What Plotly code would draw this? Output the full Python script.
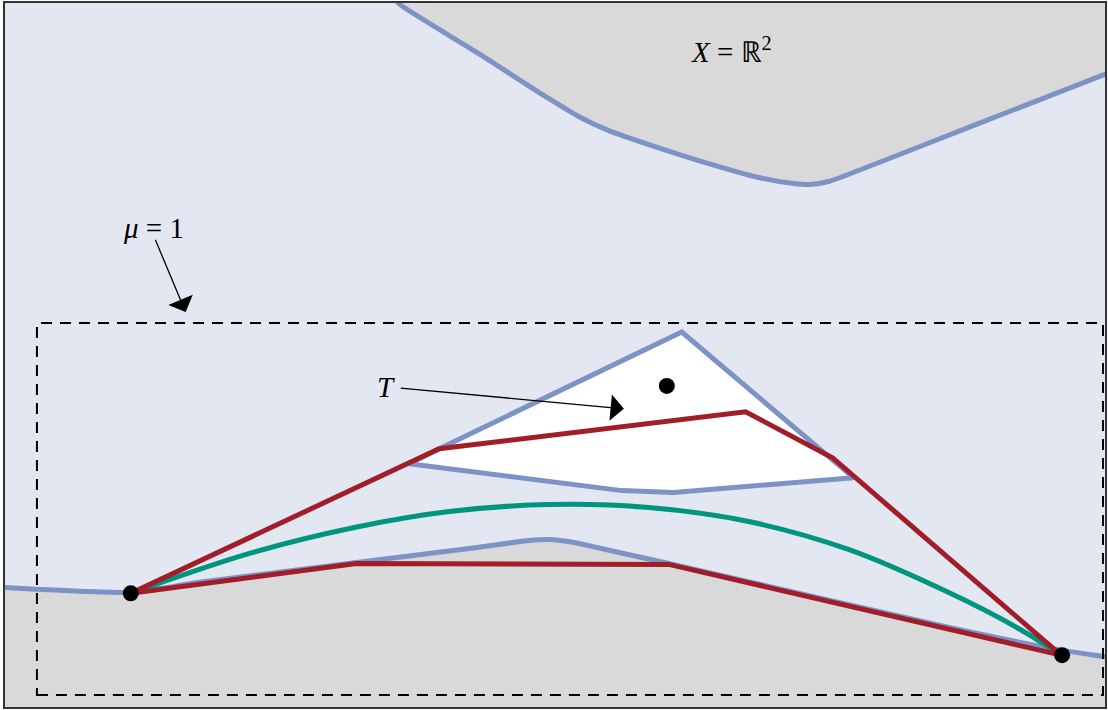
import plotly.graph_objects as go

# Colours
BG_BLUE = "#e2e7f2"
GRAY = "#d9d9d9"
BLUE = "#7d93c6"
RED = "#a01d29"
GREEN = "#00957e"

# Upper boundary of the space (gray region above it)
top_x = [3.97, 4.00, 4.80, 5.50, 5.80, 6.10, 6.50, 7.00, 7.60, 7.95, 8.12, 8.30, 8.60, 9.80, 11.08, 11.20]
top_y = [7.12, 7.08, 6.58, 6.13, 5.95, 5.81, 5.67, 5.51, 5.34, 5.28, 5.27, 5.30, 5.41, 5.88, 6.38, 6.43]

# Lower boundary of the space (gray region below it)
bot_x = [-0.10, 0.00, 0.60, 1.31, 2.00, 3.57, 4.70, 5.30, 5.50, 5.75, 6.20, 6.70, 9.50, 10.63, 11.10, 11.20]
bot_y = [1.23, 1.23, 1.20, 1.18, 1.28, 1.48, 1.62, 1.70, 1.71, 1.68, 1.58, 1.47, 0.83, 0.60, 0.53, 0.51]

# Obstacle T
tri_x = [4.10, 4.40, 6.83, 8.55, 6.75, 6.23, 4.10]
tri_y = [2.47, 2.62, 3.79, 2.33, 2.18, 2.20, 2.47]

# Piecewise linear paths
red_up_x = [1.31, 4.40, 7.47, 8.34, 10.63]
red_up_y = [1.17, 2.62, 2.99, 2.53, 0.55]
red_lo_x = [1.31, 3.57, 6.70, 10.63]
red_lo_y = [1.17, 1.47, 1.46, 0.55]

# Smooth path
green_x = [1.31, 2.50, 3.55, 4.50, 5.50, 6.50, 7.50, 8.50, 9.50, 10.20, 10.63]
green_y = [1.17, 1.57, 1.83, 1.99, 2.06, 2.03, 1.89, 1.61, 1.18, 0.82, 0.55]

# Points
pts_x = [1.31, 10.64, 6.68]
pts_y = [1.17, 0.55, 3.25]

# Dashed window
win_x0, win_x1 = 0.37, 11.05
win_y0, win_y1 = 0.15, 3.88

fig = go.Figure()

# Gray regions outside the space
fig.add_trace(go.Scatter(
    x=top_x + [11.20, 3.90], y=top_y + [7.20, 7.20],
    fill="toself", fillcolor=GRAY, mode="none", hoverinfo="skip"))
fig.add_trace(go.Scatter(
    x=bot_x + [11.20, -0.10], y=bot_y + [-0.10, -0.10],
    fill="toself", fillcolor=GRAY, mode="none", hoverinfo="skip"))

# Boundary curves
fig.add_trace(go.Scatter(x=top_x, y=top_y, mode="lines",
                         line=dict(color=BLUE, width=5, shape="spline", smoothing=0.7)))
fig.add_trace(go.Scatter(x=bot_x, y=bot_y, mode="lines",
                         line=dict(color=BLUE, width=5, shape="spline", smoothing=0.6)))

# Obstacle
fig.add_trace(go.Scatter(x=tri_x, y=tri_y, mode="lines", fill="toself",
                         fillcolor="white", line=dict(color=BLUE, width=5)))

# Paths
fig.add_trace(go.Scatter(x=green_x, y=green_y, mode="lines",
                         line=dict(color=GREEN, width=5, shape="spline", smoothing=1.0)))
fig.add_trace(go.Scatter(x=red_up_x, y=red_up_y, mode="lines",
                         line=dict(color=RED, width=5)))
fig.add_trace(go.Scatter(x=red_lo_x, y=red_lo_y, mode="lines",
                         line=dict(color=RED, width=5)))

fig.add_trace(go.Scatter(x=pts_x, y=pts_y, mode="markers",
                         marker=dict(color="black", size=16, line=dict(width=0))))

# Dashed window
fig.add_shape(type="rect", x0=win_x0, x1=win_x1, y0=win_y0, y1=win_y1,
              line=dict(color="black", width=2, dash="11px,8px"))

FONT = dict(family="Liberation Serif, serif", size=29, color="black")

fig.add_annotation(x=7.33, y=6.62, text="<i>X</i> = ℝ<sup>2</sup>",
                   showarrow=False, font=FONT)
fig.add_annotation(x=1.54, y=4.83, text="<i>μ</i> = 1",
                   showarrow=False, font=FONT)
fig.add_annotation(x=3.87, y=3.24, text="<i>T</i>",
                   showarrow=False, font=FONT)

# Arrows
fig.add_annotation(x=1.86, y=3.99, ax=1.55, ay=4.73, xref="x", yref="y",
                   axref="x", ayref="y", text="", showarrow=True,
                   arrowhead=1, arrowsize=3.4, arrowwidth=1.3, arrowcolor="black")
fig.add_annotation(x=6.25, y=3.02, ax=4.00, ay=3.23, xref="x", yref="y",
                   axref="x", ayref="y", text="", showarrow=True,
                   arrowhead=1, arrowsize=3.4, arrowwidth=1.3, arrowcolor="black")

axis_common = dict(showgrid=False, zeroline=False, showticklabels=False, ticks="",
                   showline=True, mirror=True, linecolor="#333333", linewidth=1.5)
fig.update_xaxes(range=[0.05, 11.07], **axis_common)
fig.update_yaxes(range=[0.03, 7.09], **axis_common)

fig.update_layout(
    width=1108, height=710,
    margin=dict(l=5, r=1, t=1, b=3),
    plot_bgcolor=BG_BLUE, paper_bgcolor="white",
    showlegend=False,
)

fig.write_html("out.html")
